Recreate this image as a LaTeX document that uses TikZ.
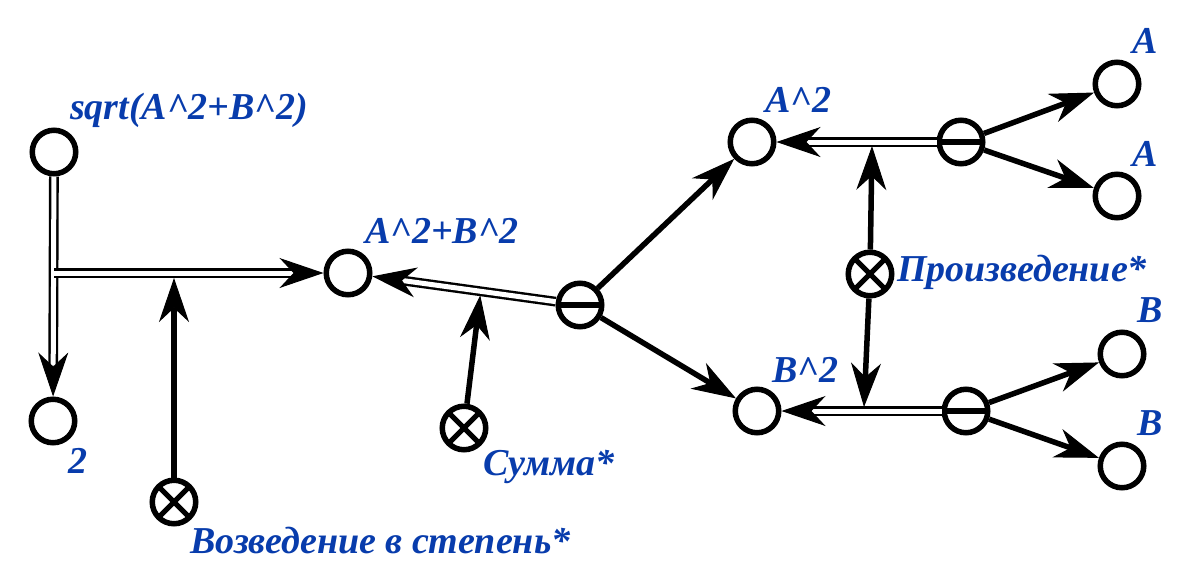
\documentclass[tikz,border=0pt]{standalone}
\usepackage{fontspec}
\setmainfont{Liberation Serif}
\usetikzlibrary{arrows.meta,calc}

\definecolor{lblue}{RGB}{8,60,172}

\tikzset{
  tipshape/.tip={Stealth[length=44pt,width=30pt,inset=14pt,line width=1pt]},
  vnode/.style={circle,draw,line width=5.5pt,minimum size=43.5pt,inner sep=0pt},
  opminus/.style={vnode,path picture={
      \draw[line width=5.5pt]
        ([xshift=-30pt]path picture bounding box.center) --
        ([xshift=30pt]path picture bounding box.center);}},
  optimes/.style={vnode,path picture={
      \draw[line width=5pt]
        ([shift={(-20pt,-20pt)}]path picture bounding box.center) --
        ([shift={(20pt,20pt)}]path picture bounding box.center);
      \draw[line width=5pt]
        ([shift={(-20pt,20pt)}]path picture bounding box.center) --
        ([shift={(20pt,-20pt)}]path picture bounding box.center);}},
  arr/.style={draw,line width=5.5pt,-tipshape},
  dbl/.style={draw,double=white,line width=2.4pt,double distance=5pt,shorten >=31pt},
  dtip/.style={draw,line width=1pt,-tipshape},
  lbl/.style={anchor=base west,inner sep=0pt,text=lblue,
    font=\fontsize{38pt}{40pt}\selectfont\bfseries\itshape},
}

% double-line connector ending in a solid tip
\newcommand\dblconn[2]{%
  \draw[dbl] (#1) -- (#2);
  \draw[dtip] ($(#2)!50pt!(#1)$) -- (#2);
}

\begin{document}
\begin{tikzpicture}[x=1pt,y=-1pt]
\useasboundingbox (0,0) rectangle (1197,582);

% vertices
\node[vnode] (root) at (54,152) {};
\node[vnode] (two) at (53,421) {};
\node[optimes] (pow) at (174,502) {};
\node[vnode] (ab) at (348,273) {};
\node[opminus] (dec1) at (580,305) {};
\node[optimes] (sum) at (464,428) {};
\node[vnode] (a2) at (752,142) {};
\node[vnode] (b2) at (757,411) {};
\node[opminus] (dec2) at (961,142) {};
\node[opminus] (dec3) at (966,411) {};
\node[optimes] (mul) at (870,274) {};
\node[vnode] (a1) at (1117,84) {};
\node[vnode] (a3) at (1117,196) {};
\node[vnode] (b1) at (1122,354) {};
\node[vnode] (b3) at (1122,466) {};

% labels
\node[lbl] (lroot) at (70,119) {sqrt(A\textasciicircum 2+B\textasciicircum 2)};
\node[lbl] (ltwo) at (68,473) {2};
\node[lbl] (lpow) at (190,553) {Возведение в степень*};
\node[lbl] (lab) at (365,243) {A\textasciicircum 2+B\textasciicircum 2};
\node[lbl] (lsum) at (483,475) {Сумма*};
\node[lbl] (la2) at (765,112) {A\textasciicircum 2};
\node[lbl] (lmul) at (897,281) {Произведение*};
\node[lbl] (lb2) at (772,382) {B\textasciicircum 2};
\node[lbl] (la1) at (1132,53) {A};
\node[lbl] (la3) at (1132,166) {A};
\node[lbl] (lb1) at (1137,322) {B};
\node[lbl] (lb3) at (1137,435) {B};

% junction points on the double lines
\coordinate (j) at (54,273);
\coordinate (powhit) at (174,278);
\coordinate (sumhit) at ($(ab)!0.57!(dec1)+(0,4)$);
\coordinate (mulup) at (872,146);
\coordinate (muldown) at (864,407);

% operand links
\draw[arr] (pow) -- (powhit);
\draw[arr] (sum) -- (sumhit);
\draw[arr] (mul) -- (mulup);
\draw[arr] (mul) -- (muldown);

% double-line results
\dblconn{root}{two}
\dblconn{j}{ab}
\dblconn{dec1}{ab}
\dblconn{dec2}{a2}
\dblconn{dec3}{b2}

% decomposition arrows
\draw[arr] (dec1) -- (a2);
\draw[arr] (dec1) -- (b2);
\draw[arr] (dec2) -- (a1);
\draw[arr] (dec2) -- (a3);
\draw[arr] (dec3) -- (b1);
\draw[arr] (dec3) -- (b3);
\end{tikzpicture}
\end{document}
